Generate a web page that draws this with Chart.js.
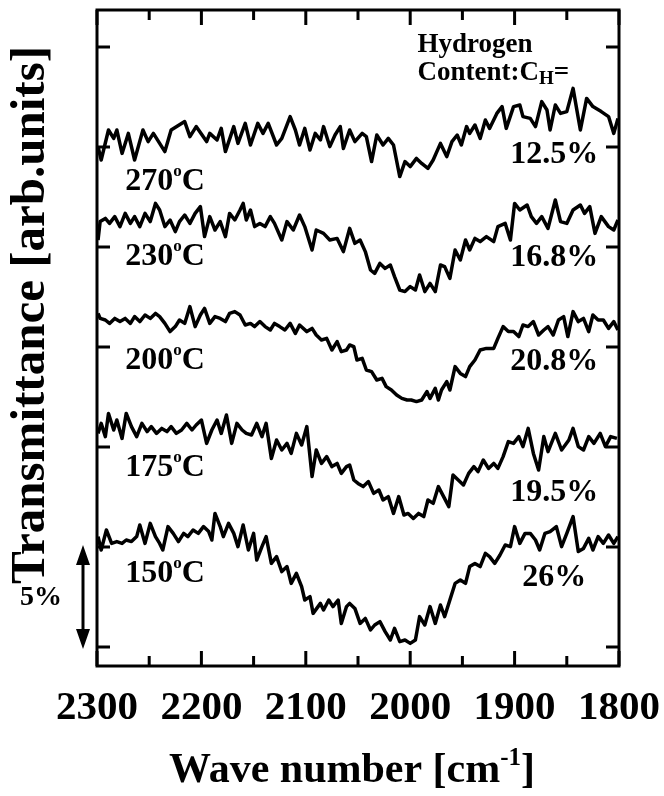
<!DOCTYPE html>
<html>
<head>
<meta charset="utf-8">
<title>IR transmittance vs substrate temperature</title>
<script src="https://cdn.jsdelivr.net/npm/chart.js@4.4.0/dist/chart.umd.min.js"></script>
<style>
  html, body { margin: 0; padding: 0; background: #fff; }
  canvas { display: block; }
</style>
</head>
<body>
<canvas id="ir" width="664" height="796"></canvas>
<script>
// Si-H stretching band, spectra offset vertically (units: % transmittance)
const wn270 = [2299, 2296, 2289, 2284, 2281, 2276, 2270, 2264, 2256, 2251, 2246, 2235, 2229, 2216, 2211, 2205, 2195, 2192, 2185, 2181,
  2177, 2169, 2165, 2158, 2153, 2146, 2141, 2136, 2128, 2123, 2115, 2110, 2106, 2101, 2096, 2091, 2086, 2083, 2077, 2072,
  2067, 2064, 2058, 2053, 2046, 2042, 2037, 2032, 2026, 2021, 2016, 2010, 2005, 2000, 1994, 1989, 1983, 1978, 1971, 1965,
  1960, 1955, 1951, 1946, 1943, 1938, 1933, 1928, 1924, 1917, 1912, 1908, 1901, 1895, 1892, 1885, 1880, 1874, 1869, 1866,
  1861, 1856, 1850, 1844, 1837, 1831, 1825, 1817, 1810, 1805, 1801];
const t270 = [25.02, 24.35, 25.85, 25.43, 25.85, 24.68, 25.68, 24.35, 25.85, 25.27, 25.68, 24.77, 25.85, 26.27, 25.52, 26.02, 25.27, 25.68, 25.35, 25.93,
  24.77, 26.02, 25.18, 26.18, 25.10, 26.18, 25.68, 26.18, 25.10, 25.43, 26.52, 25.85, 25.10, 25.93, 24.85, 25.68, 25.35, 26.02, 25.02, 25.60,
  26.02, 24.93, 25.85, 25.27, 25.68, 25.52, 24.27, 25.60, 25.10, 25.43, 25.10, 23.52, 24.27, 24.02, 24.43, 24.18, 23.93, 24.35, 25.18, 24.52,
  25.27, 25.60, 25.10, 26.02, 25.68, 26.10, 25.43, 26.35, 25.93, 26.68, 27.02, 25.93, 27.02, 27.10, 26.52, 26.43, 26.02, 27.27, 26.85, 25.85,
  27.10, 26.68, 26.77, 27.93, 25.85, 27.43, 27.02, 26.77, 26.52, 25.68, 26.43];

const wn230 = [2299, 2297, 2292, 2288, 2283, 2278, 2273, 2268, 2264, 2259, 2254, 2249, 2244, 2240, 2235, 2230, 2225, 2221, 2216, 2211,
  2206, 2201, 2197, 2192, 2187, 2182, 2177, 2173, 2168, 2163, 2160, 2157, 2153, 2149, 2144, 2139, 2134, 2130, 2123, 2118,
  2112, 2106, 2101, 2094, 2090, 2083, 2077, 2070, 2064,
  2058, 2053, 2048, 2043, 2038, 2034, 2029, 2024, 2019, 2015, 2010, 2005, 2000, 1995, 1991, 1986, 1981, 1976, 1971, 1967,
  1962, 1957, 1952, 1947, 1943, 1938, 1933, 1927, 1920, 1916, 1909, 1904, 1900, 1895, 1888, 1884, 1879, 1874, 1868, 1861,
  1856, 1850, 1844, 1837, 1833, 1828, 1823, 1817, 1810, 1805, 1801];
const t230 = [20.35, 21.27, 21.43, 21.18, 21.52, 21.02, 21.68, 21.18, 21.52, 21.02, 21.68, 21.27, 22.18, 21.85, 21.02, 21.35, 20.77, 21.27, 21.60, 21.18,
  21.68, 22.02, 20.52, 21.52, 20.85, 21.27, 20.52, 21.68, 21.35, 21.85, 22.18, 21.35, 21.85, 21.02, 21.18, 21.02, 21.52, 21.18, 20.35, 21.27,
  20.85, 21.60, 21.02, 19.85, 20.85, 20.68, 20.35, 20.43, 19.77,
  20.93, 20.18, 20.35, 19.77, 18.85, 18.68, 19.18, 18.93, 19.10, 18.52, 17.85, 17.77, 18.02, 17.85, 18.60, 17.77, 18.18, 17.77, 19.10, 19.02,
  18.43, 19.85, 19.35, 20.35, 19.85, 20.43, 20.27, 20.52, 20.27, 21.02, 21.18, 20.35, 22.18, 21.85, 22.10, 21.52, 21.18, 21.52, 20.93, 22.35,
  21.27, 21.18, 21.85, 22.10, 21.68, 22.02, 20.68, 21.52, 21.02, 20.85, 21.35];

const wn200 = [2299, 2297, 2292, 2288, 2283, 2278, 2273, 2268, 2264, 2259, 2254, 2249, 2244, 2240, 2235, 2230, 2225, 2221, 2216, 2211,
  2206, 2201, 2197, 2192, 2187, 2182, 2177, 2173, 2168, 2163, 2158, 2153, 2149, 2144, 2139, 2134, 2130, 2125, 2120, 2115,
  2110, 2106, 2099, 2094, 2090, 2085, 2080, 2075, 2070, 2066, 2061,
  2058, 2054, 2051, 2046, 2042, 2037, 2032, 2027, 2023, 2018, 2013, 2008, 2003, 1999, 1994, 1989, 1984, 1981, 1976, 1973,
  1970, 1965, 1962, 1957, 1952, 1947, 1943, 1938, 1933, 1927, 1920, 1916, 1911, 1906, 1901, 1896, 1892, 1887, 1882, 1877,
  1872, 1868, 1863, 1858, 1853, 1849, 1844, 1839, 1834, 1829, 1825, 1820, 1815, 1810, 1805, 1801];
const t200 = [16.68, 16.43, 16.35, 16.18, 16.43, 16.27, 16.43, 16.18, 16.52, 16.27, 16.60, 16.43, 16.68, 16.52, 16.18, 15.77, 16.02, 16.35, 16.18, 17.02,
  16.02, 16.60, 16.93, 16.18, 16.52, 16.43, 16.27, 16.68, 16.77, 16.60, 16.10, 16.18, 16.02, 16.27, 16.02, 15.85, 16.18, 16.02, 15.85, 16.18,
  15.68, 16.10, 15.77, 15.93, 15.60, 15.35, 15.43, 14.85, 15.27, 14.77, 14.85,
  15.10, 15.02, 14.35, 14.43, 13.85, 13.77, 13.35, 13.43, 13.02, 12.85, 12.60, 12.43, 12.35, 12.35, 12.27, 12.35, 12.77, 12.43, 12.93, 12.35,
  12.85, 13.27, 12.85, 14.02, 13.68, 13.52, 14.02, 14.35, 14.85, 14.93, 14.93, 15.43, 16.02, 15.77, 15.77, 15.52, 16.10, 16.02, 16.27, 15.60,
  15.85, 16.02, 15.60, 16.35, 16.52, 15.52, 16.77, 16.27, 16.43, 15.77, 16.60, 16.35, 16.35, 15.93, 16.27, 15.85];

const wn175 = [2299, 2296, 2292, 2289, 2284, 2281, 2276, 2272, 2267, 2262, 2257, 2252, 2248, 2243, 2238, 2233, 2229, 2224, 2219, 2214,
  2209, 2205, 2200, 2195, 2190, 2185, 2181, 2176, 2171, 2166, 2161, 2157, 2152, 2147, 2142, 2138, 2133, 2128, 2123, 2118,
  2114, 2109, 2104, 2099, 2094, 2090, 2085, 2080, 2075, 2070, 2066, 2061,
  2058, 2054, 2050, 2045, 2040, 2035, 2030, 2026, 2021, 2016, 2011, 2006, 2002, 1997, 1992, 1987, 1983, 1978, 1973, 1968,
  1963, 1959, 1954, 1949, 1944, 1939, 1935, 1930, 1925, 1920, 1916, 1911, 1906, 1901, 1896, 1892, 1887, 1882, 1877, 1872,
  1868, 1861, 1855, 1848, 1844, 1839, 1834, 1829, 1824, 1818, 1813, 1808, 1802];
const t175 = [10.68, 11.18, 10.52, 11.68, 10.85, 11.35, 10.43, 11.68, 11.02, 10.52, 11.18, 10.77, 11.02, 10.68, 10.93, 10.77, 11.02, 10.68, 10.85, 11.18,
  10.85, 11.10, 11.35, 10.18, 10.85, 11.35, 10.68, 11.60, 10.18, 11.18, 10.85, 10.68, 10.60, 11.18, 10.52, 11.18, 9.43, 10.35, 9.85, 10.18,
  9.68, 10.68, 10.10, 11.02, 8.52, 9.85, 9.18, 9.52, 9.02, 9.18, 8.68, 9.02,
  9.10, 8.35, 8.18, 8.02, 8.27, 7.68, 7.85, 7.35, 7.52, 6.68, 7.52, 6.60, 6.68, 6.43, 6.68, 6.52, 7.35, 7.18, 8.02, 7.52,
  7.02, 8.60, 8.35, 8.10, 8.68, 9.02, 8.77, 9.35, 8.93, 9.18, 8.93, 9.52, 10.27, 10.18, 10.52, 10.02, 10.93, 9.68, 8.85, 10.52,
  9.77, 10.68, 9.85, 10.35, 10.93, 10.02, 9.85, 10.52, 10.18, 10.68, 10.02, 10.52, 10.43];

const wn150 = [2299, 2296, 2291, 2286, 2281, 2276, 2272, 2267, 2262, 2259, 2254, 2249, 2244, 2240, 2237, 2232, 2227, 2222, 2217, 2213,
  2208, 2203, 2198, 2193, 2190, 2187, 2182, 2179, 2174, 2169, 2165, 2160, 2155, 2150, 2147, 2142, 2138, 2133, 2128, 2123,
  2118, 2114, 2109, 2104, 2101, 2096, 2093, 2086, 2083, 2078, 2074, 2069, 2066, 2061,
  2058, 2053, 2048, 2043, 2038, 2034, 2029, 2024, 2019, 2015, 2010, 2005, 2000, 1995, 1991, 1986, 1981, 1976, 1971, 1967,
  1962, 1957, 1952, 1947, 1943, 1938, 1933, 1928, 1924, 1919, 1914, 1909, 1904, 1900, 1895, 1890, 1885, 1880, 1876, 1871,
  1866, 1860, 1855, 1850, 1844, 1839, 1834, 1829, 1825, 1820, 1815, 1810, 1805, 1801];
const t150 = [5.52, 4.85, 5.85, 5.18, 5.27, 5.18, 5.35, 5.27, 5.52, 6.10, 5.18, 6.18, 5.52, 5.18, 4.85, 6.02, 5.68, 5.27, 5.68, 5.52,
  5.85, 5.68, 6.02, 5.77, 5.35, 6.68, 6.02, 5.52, 6.18, 5.68, 5.02, 6.10, 4.85, 5.68, 4.35, 5.02, 5.52, 4.18, 4.52, 3.77,
  4.02, 3.18, 3.68, 3.02, 2.35, 2.52, 1.68, 2.18, 1.85, 2.35, 2.02, 2.35, 1.18, 2.02,
  2.18, 1.93, 1.18, 1.43, 0.85, 1.10, 1.27, 0.77, 0.35, 0.93, 0.27, 0.35, 0.18, 0.35, 1.52, 1.10, 2.02, 1.18, 2.10, 1.52,
  2.35, 3.18, 3.35, 3.18, 4.02, 4.18, 4.02, 4.68, 4.52, 4.18, 4.60, 5.10, 5.02, 6.02, 5.18, 5.68, 5.68, 5.35, 4.85, 5.68,
  5.77, 6.02, 5.02, 5.68, 6.52, 4.77, 4.93, 5.43, 4.85, 5.52, 5.18, 5.60, 5.18, 5.52];

// curve labels: substrate temperature (left) and hydrogen content (right)
const temps = ['270', '230', '200', '175', '150'];
const contents = ['12.5%', '16.8%', '20.8%', '19.5%', '26%'];
const tempLabelY = [23.25, 19.5, 14.3, 8.95, 3.65];
const contentLabelY = [24.6, 19.45, 14.25, 7.7, 3.45];

const xTicks = [2300, 2250, 2200, 2150, 2100, 2050, 2000, 1950, 1900, 1850, 1800];
const yTicks = [0, 5, 10, 15, 20, 25, 30];

const SERIF = "'Liberation Serif', 'Times New Roman', serif";
const font = (size) => `bold ${size}px ${SERIF}`;

const spectra = [
	[wn270, t270], [wn230, t230], [wn200, t200], [wn175, t175], [wn150, t150]
];

// draws a run of [text, size, dy] pieces left to right
function drawRun(ctx, x, y, pieces) {
	pieces.forEach(([txt, size, dy]) => {
		ctx.font = font(size);
		ctx.fillText(txt, x, y + dy);
		x += ctx.measureText(txt).width;
	});
}

function runWidth(ctx, pieces) {
	return pieces.reduce((w, [txt, size]) => {
		ctx.font = font(size);
		return w + ctx.measureText(txt).width;
	}, 0);
}

const decor = {
	id: 'decor',
	afterDatasetsDraw(chart) {
		const { ctx, chartArea: a, scales: { x, y } } = chart;
		ctx.save();
		ctx.strokeStyle = '#000';
		ctx.fillStyle = '#000';
		ctx.lineWidth = 3;
		ctx.lineCap = 'butt';

		// box + inward ticks
		ctx.strokeRect(a.left, a.top, a.right - a.left, a.bottom - a.top);
		ctx.beginPath();
		xTicks.forEach(w => {
			const px = x.getPixelForValue(w);
			const len = w % 100 === 0 ? 15 : 10;
			ctx.moveTo(px, a.top); ctx.lineTo(px, a.top + len);
			ctx.moveTo(px, a.bottom); ctx.lineTo(px, a.bottom - len);
		});
		yTicks.forEach(v => {
			const py = y.getPixelForValue(v);
			ctx.moveTo(a.left, py); ctx.lineTo(a.left + 13, py);
			ctx.moveTo(a.right, py); ctx.lineTo(a.right - 13, py);
		});
		ctx.stroke();

		ctx.textBaseline = 'middle';
		ctx.textAlign = 'left';

		// temperature labels, with superscript o
		temps.forEach((t, i) => {
			drawRun(ctx, x.getPixelForValue(2273), y.getPixelForValue(tempLabelY[i]),
				[[t, 32, 0], ['o', 17, -10], ['C', 32, 0]]);
		});

		// hydrogen content labels
		ctx.textAlign = 'center';
		ctx.font = font(32);
		contents.forEach((c, i) => {
			ctx.fillText(c, x.getPixelForValue(1862), y.getPixelForValue(contentLabelY[i]));
		});

		// legend heading
		ctx.textAlign = 'left';
		const hx = x.getPixelForValue(1993);
		ctx.font = font(27);
		ctx.fillText('Hydrogen', hx, y.getPixelForValue(30.1));
		drawRun(ctx, hx, y.getPixelForValue(28.7), [['Content:C', 27, 0], ['H', 19, 6], ['=', 27, 0]]);

		// 5% scale bar
		const ax = a.left - 14;
		const y0 = y.getPixelForValue(0), y5 = y.getPixelForValue(5);
		ctx.beginPath();
		ctx.moveTo(ax, y5 + 14); ctx.lineTo(ax, y0 - 14);
		ctx.stroke();
		ctx.beginPath();
		ctx.moveTo(ax, y5 - 2); ctx.lineTo(ax - 7, y5 + 18); ctx.lineTo(ax + 7, y5 + 18); ctx.closePath();
		ctx.moveTo(ax, y0 + 2); ctx.lineTo(ax - 7, y0 - 18); ctx.lineTo(ax + 7, y0 - 18); ctx.closePath();
		ctx.fill();
		ctx.textAlign = 'center';
		ctx.font = font(28);
		ctx.fillText('5%', 41, y.getPixelForValue(2.45));

		// x axis title with superscript -1
		ctx.textAlign = 'left';
		ctx.textBaseline = 'alphabetic';
		const xt = [['Wave number [cm', 42, 0], ['-1', 25, -17], [']', 42, 0]];
		drawRun(ctx, 352 - runWidth(ctx, xt) / 2, 782, xt);

		// y axis title
		ctx.textAlign = 'center';
		ctx.textBaseline = 'middle';
		ctx.translate(31, 315);
		ctx.rotate(-Math.PI / 2);
		ctx.font = font(49);
		ctx.fillText('Transmittance [arb.units]', 0, 0);
		ctx.restore();
	}
};

new Chart(document.getElementById('ir').getContext('2d'), {
	type: 'line',
	data: {
		datasets: spectra.map(([wn, t]) => ({
			data: wn.map((w, i) => ({ x: w, y: t[i] })),
			borderColor: '#000',
			borderWidth: 3.5,
			borderJoinStyle: 'round',
			pointRadius: 0,
			tension: 0,
			fill: false
		}))
	},
	options: {
		responsive: false,
		animation: false,
		events: [],
		layout: {
			// room below the tick labels is kept for the axis title
			padding: { left: 97, right: 45, top: 10, bottom: 46 }
		},
		scales: {
			x: {
				type: 'linear',
				reverse: true,
				min: 1800,
				max: 2300,
				grid: { display: false, drawTicks: false },
				border: { display: false },
				// end labels may hang into the page margin
				afterFit: (scale) => { scale.paddingLeft = 0; scale.paddingRight = 0; },
				ticks: {
					stepSize: 100,
					color: '#000',
					padding: 17.4,
					maxRotation: 0,
					callback: v => String(v),
					font: { family: SERIF, size: 41, weight: 'bold' }
				}
			},
			y: {
				type: 'linear',
				display: false,
				min: -0.95,
				max: 31.85
			}
		},
		plugins: {
			legend: { display: false },
			tooltip: { enabled: false }
		}
	},
	plugins: [decor]
});
</script>
</body>
</html>
